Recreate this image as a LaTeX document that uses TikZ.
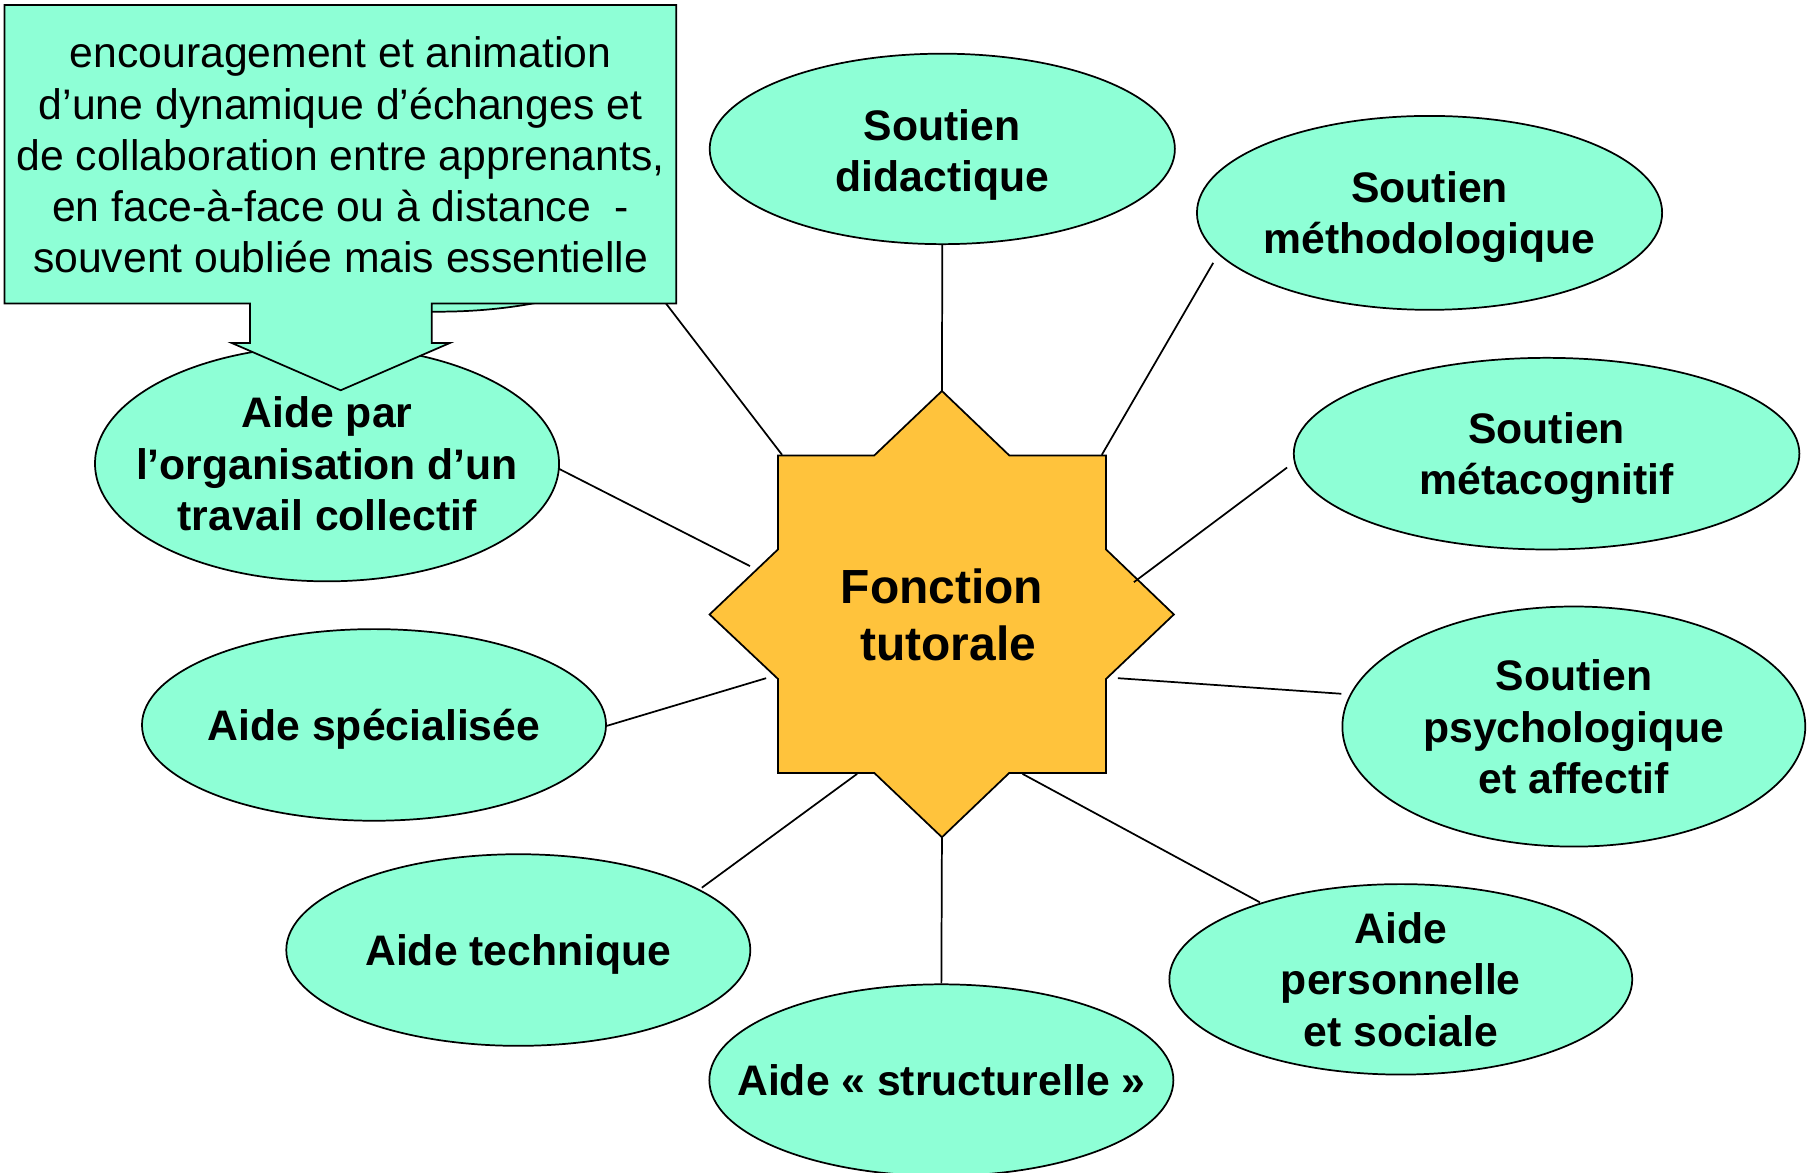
\documentclass[tikz,border=0pt]{standalone}
\usepackage{fontspec}
\setmainfont{Liberation Sans}
\usetikzlibrary{shapes.geometric}
\definecolor{aqua}{RGB}{142,255,214}
\definecolor{starfill}{RGB}{255,195,60}
\tikzset{
  bubble/.style={ellipse, draw=black, line width=1.5pt, fill=aqua, inner sep=0pt, minimum width=402pt, minimum height=166pt},
  btext/.style={font=\bfseries\fontsize{37}{44.4}\selectfont, align=center, text depth=0pt, inner sep=0pt},
  ctext/.style={font=\fontsize{37}{44.3}\selectfont, align=center, text depth=0pt, inner sep=0pt},
  stext/.style={font=\bfseries\fontsize{41.5}{50}\selectfont, align=center, text depth=0pt, inner sep=0pt},
  conn/.style={draw=black, line width=1.5pt},
  starshape/.style={draw=black, line width=1.5pt, fill=starfill, line join=miter},
  callout/.style={draw=black, line width=1.5pt, fill=aqua, line join=miter},
}
\begin{document}
\begin{tikzpicture}[x=1pt,y=-1pt]
\useasboundingbox (0,0) rectangle (1568,1015.3);

% hidden ellipse behind the callout
\node[bubble] (hid) at (380,187) {};

% star
\coordinate (sT)  at (816,338.7);
\coordinate (sTL) at (673.9,394.5);
\coordinate (sTR) at (958.2,394.5);
\coordinate (sBL) at (673.9,669.6);
\coordinate (sBR) at (958.2,669.6);
\coordinate (sB)  at (816,725.3);
\coordinate (sL)  at (614.7,532.3);
\coordinate (sR)  at (1016.9,532.3);
\path[starshape] (sT) -- (874.3,394.5) -- (sTR) -- (958.2,476) -- (sR) -- (958.2,588.1)
  -- (sBR) -- (874.3,669.6) -- (sB) -- (757.4,669.6) -- (sBL) -- (673.9,588.1)
  -- (sL) -- (673.9,476) -- (sTL) -- (757.4,394.5) -- cycle;

% ellipses
\node[bubble, minimum width=403pt, minimum height=165pt] (did) at (816.3,129) {};
\node[bubble, minimum width=403pt, minimum height=168pt] (met) at (1238.4,184.4) {};
\node[bubble, minimum width=438pt, minimum height=166pt] (meta) at (1339.8,393) {};
\node[bubble, minimum width=401pt, minimum height=208pt] (psy) at (1363.4,629.4) {};
\node[bubble, minimum width=401pt, minimum height=165pt] (pers) at (1213.5,848.4) {};
\node[bubble] (struc) at (815.5,935.7) {};
\node[bubble] (tech) at (449,823) {};
\node[bubble] (spec) at (324,628) {};
\node[bubble, minimum width=402pt, minimum height=204pt] (orga) at (283.3,401.6) {};

% connector end points
\coordinate (eUL) at (577,263);
\coordinate (sUL) at (677.5,394);
\coordinate (eUR) at (1051,227.7);
\coordinate (sUR) at (954.5,394);
\coordinate (eR1) at (1115,405);
\coordinate (sR1) at (982.3,504.3);
\coordinate (eR2) at (1162,601);
\coordinate (sR2) at (968.4,587.5);
\coordinate (eBR) at (1091.5,781.7);
\coordinate (sBRc) at (885.8,670.4);
\coordinate (eBL) at (608,769);
\coordinate (sBLc) at (742.5,670.4);
\coordinate (eL2) at (525,629);
\coordinate (sL2) at (663.7,587.5);
\coordinate (eL1) at (484,406);
\coordinate (sL1) at (649.7,490.4);

% connectors
\draw[conn] (sT) -- (did.south);
\draw[conn] (sB) -- (struc.north);
\draw[conn] (sUL) -- (eUL);
\draw[conn] (sUR) -- (eUR);
\draw[conn] (sR1) -- (eR1);
\draw[conn] (sR2) -- (eR2);
\draw[conn] (sBRc) -- (eBR);
\draw[conn] (sBLc) -- (eBL);
\draw[conn] (sL2) -- (eL2);
\draw[conn] (sL1) -- (eL1);

% callout
\path[callout] (3.9,4.3) -- (585.9,4.3) -- (585.9,263) -- (374,263) -- (374,297.1)
  -- (389.8,297.1) -- (295.1,338.1) -- (200.7,297.1) -- (216.6,297.1)
  -- (216.6,263) -- (3.9,263) -- cycle;
\node[ctext] (ctx) at (295,134) {encouragement et animation\\d’une dynamique d’échanges et\hspace*{10pt}\\de collaboration entre apprenants,\\en face-à-face ou à distance\ \ -\\souvent oubliée mais essentielle};

% texts
\node[stext] (ft) at (816,532.5) {Fonction\\\hspace*{11pt}tutorale};
\node[btext] (tdid) at (816.3,130.5) {Soutien\\didactique};
\node[btext] (tmet) at (met) {Soutien\\méthodologique};
\node[btext] (tmeta) at (meta) {Soutien\\métacognitif};
\node[btext] (tpsy) at (psy) {Soutien\\psychologique\\et affectif};
\node[btext] (tpers) at (pers) {Aide\\personnelle\\et sociale};
\node[btext] (tstruc) at (struc) {Aide « structurelle »};
\node[btext] (ttech) at (tech) {Aide technique};
\node[btext] (tspec) at (spec) {Aide spécialisée};
\node[btext] (torga) at (orga) {Aide par\\l’organisation d’un\\travail collectif};
\end{tikzpicture}
\end{document}
